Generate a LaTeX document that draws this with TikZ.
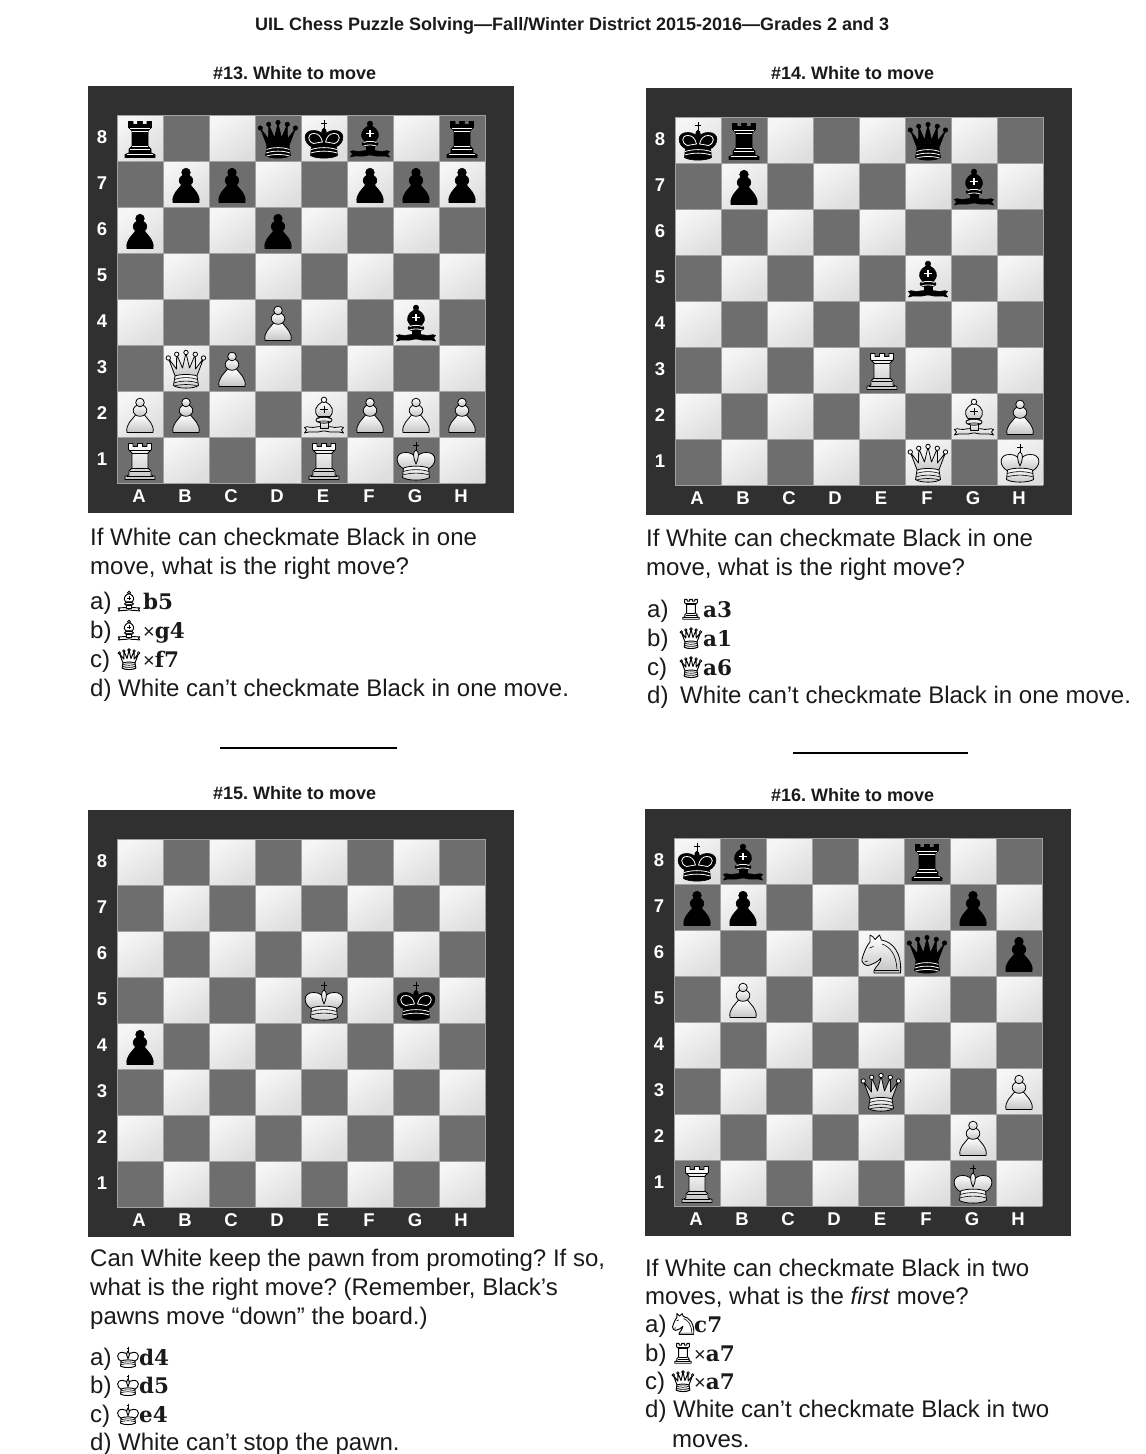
\documentclass[tikz,border=0pt]{standalone}
\usepackage{fontspec}
\setmainfont{Liberation Sans}
\newfontfamily\figfont{DejaVu Serif}
\newfontfamily\plainfont{Liberation Sans}
\frenchspacing
\definecolor{frameC}{HTML}{303030}
\definecolor{darkC}{HTML}{6E6E6E}
\definecolor{lightA}{HTML}{F6F6F6}
\definecolor{lightB}{HTML}{DEDEDE}
\definecolor{gridC}{HTML}{A0A0A0}
\definecolor{pcBot}{HTML}{C4C4C4}
\definecolor{inkC}{HTML}{1A1A1A}
\tikzset{
  x=1pt,y=-1pt,
  pbody/.style={},pline/.style={},pball/.style={},pring/.style={},pheavy/.style={},
  whitepc/.style={
    pbody/.style={draw=black,line width=.8pt,line join=round,top color=white,bottom color=pcBot},
    pball/.style={draw=black,line width=.8pt,fill=white},
    pring/.style={},
    pheavy/.style={draw=black,line width=.7pt},
    pline/.style={draw=black,line width=.6pt}},
  blackpc/.style={
    pbody/.style={draw=black,line width=.6pt,line join=round,fill=black},
    pball/.style={draw=black,line width=.6pt,fill=black},
    pring/.style={draw=white,line width=.8pt},
    pheavy/.style={draw=white,line width=1.6pt},
    pline/.style={draw=white,line width=.8pt}},
  whitesmall/.style={scale=.55,
    pbody/.style={draw=black,line width=.95pt,line join=round,fill=white},
    pball/.style={draw=black,line width=.8pt,fill=white},
    pring/.style={},
    pheavy/.style={draw=black,line width=.5pt},
    pline/.style={draw=black,line width=.6pt}},
  crossmark/.style={draw=black,line width=.8pt},
  lsq/.style={top color=lightA,bottom color=lightB,shading angle=35},
  dsq/.style={fill=darkC},
  gridline/.style={draw=gridC,line width=.5pt},
  rlabel/.style={text=white,font=\fontsize{18.5}{20}\selectfont\bfseries,inner sep=0pt},
  body/.style={anchor=base west,inner sep=0pt,font=\fontsize{24}{28}\selectfont,text=inkC},
  title/.style={anchor=base west,inner sep=0pt,font=\fontsize{18}{20}\selectfont\bfseries,text=inkC},
  movetxt/.style={anchor=base west,inner sep=0pt,font=\fontsize{21.5}{26}\selectfont\figfont\bfseries,text=inkC},
  rulestroke/.style={draw=black,line width=1.6pt},
  pcpawn/.pic={
    \path[pbody] (-13,18.5) .. controls (-14.5,10) and (-8,6) .. (-4.5,1) -- (4.5,1) .. controls (8,6) and (14.5,10) .. (13,18.5) -- cycle;
    \path[pbody] (0,-3.5) ellipse [x radius=6.8,y radius=5.8];
    \path[pbody] (0,-11.5) circle [radius=4.3];
  },
  pcrook/.pic={
    \path[pbody] (-11.5,-16.5) -- (-7,-16.5) -- (-7,-13.5) -- (-2.6,-13.5) -- (-2.6,-16.5) -- (2.6,-16.5) -- (2.6,-13.5) -- (7,-13.5) -- (7,-16.5) -- (11.5,-16.5) -- (11.5,-10.5) -- (8,-7) -- (8,8) -- (11,11) -- (11,15) -- (15,16.5) -- (15,19.5) -- (-15,19.5) -- (-15,16.5) -- (-11,15) -- (-11,11) -- (-8,8) -- (-8,-7) -- (-11.5,-10.5) -- cycle;
    \path[pline] (-10,-10) -- (10,-10) (-8,-7) -- (8,-7) (-8,8) -- (8,8) (-10,11.5) -- (10,11.5) (-13,16.5) -- (13,16.5);
  },
  pcqueen/.pic={
    \path[pbody] (-10.5,9) -- (-17.5,-9.5) -- (-9.5,1) -- (-9.3,-13.5) -- (-3.5,0) -- (0,-15) -- (3.5,0) -- (9.3,-13.5) -- (9.5,1) -- (17.5,-9.5) -- (10.5,9) -- cycle;
    \path[pbody] (-11,8) .. controls (-12,12) .. (-12.5,17.5) .. controls (-8,21) and (8,21) .. (12.5,17.5) .. controls (12,12) .. (11,8) .. controls (6,6) and (-6,6) .. cycle;
    \path[pline] (-11.4,11.5) .. controls (-5,9) and (5,9) .. (11.4,11.5) (-12,15) .. controls (-5,12.5) and (5,12.5) .. (12,15) (-11.5,18) .. controls (-5,16) and (5,16) .. (11.5,18);
    \path[pball] (-17.7,-10) circle [radius=2.2] (-9.3,-13.7) circle [radius=2.2] (0,-15.5) circle [radius=2.2] (9.3,-13.7) circle [radius=2.2] (17.5,-10) circle [radius=2.2];
  },
  pcking/.pic={
    \path[crossmark] (0,-18) -- (0,-9) (-2.6,-15) -- (2.6,-15);
    \path[pbody] (-12,9) .. controls (-21,5) and (-22,-8) .. (-10,-7.5) .. controls (-5,-7.5) and (-2,-5) .. (0,-2) .. controls (2,-5) and (5,-7.5) .. (10,-7.5) .. controls (22,-8) and (21,5) .. (12,9) -- cycle;
    \path[pbody] (0,-10) .. controls (-3,-8) and (-3.5,-4) .. (0,4) .. controls (3.5,-4) and (3,-8) .. (0,-10) -- cycle;
    \path[pring] (-10.5,5.5) .. controls (-17,3) and (-17,-4.5) .. (-10,-4.5) .. controls (-6,-4.5) and (-3,-2) .. (-1.5,4) .. controls (-5,4.5) .. (-10.5,5.5) -- cycle;
    \path[pring] (10.5,5.5) .. controls (17,3) and (17,-4.5) .. (10,-4.5) .. controls (6,-4.5) and (3,-2) .. (1.5,4) .. controls (5,4.5) .. (10.5,5.5) -- cycle;
    \path[pbody] (-12.5,8) .. controls (-13,12) .. (-13.5,17.5) .. controls (-8,21) and (8,21) .. (13.5,17.5) .. controls (13,12) .. (12.5,8) .. controls (6,5.5) and (-6,5.5) .. cycle;
    \path[pline] (-12.8,11.5) .. controls (-5,9) and (5,9) .. (12.8,11.5) (-13.2,15) .. controls (-5,12.5) and (5,12.5) .. (13.2,15);
  },
  pcbishop/.pic={
    \path[pbody] (0,13.5) .. controls (-5,11) and (-10,14.5) .. (-14,13.2) .. controls (-16,12.5) and (-18,12.5) .. (-19.5,13.5) -- (-17.5,16) -- (-19.5,19) .. controls (-14,16.5) and (-8,19.5) .. (-1,17) -- (1,17) .. controls (8,19.5) and (14,16.5) .. (19.5,19) -- (17.5,16) -- (19.5,13.5) .. controls (18,12.5) and (16,12.5) .. (14,13.2) .. controls (10,14.5) and (5,11) .. (0,13.5) -- cycle;
    \path[pbody] (-4,8) -- (4,8) -- (4,14) -- (-4,14) -- cycle;
    \path[pbody] (-2,-12) .. controls (-8,-8.5) and (-11,-3) .. (-6,2.5) -- (6,2.5) .. controls (11,-3) and (8,-8.5) .. (2,-12) -- cycle;
    \path[pbody] (0,6) ellipse [x radius=8,y radius=3.2];
    \path[pball] (0,-14.2) circle [radius=2.7];
    \path[pline] (-6.5,4.5) .. controls (-3,3) and (3,3) .. (6.5,4.5) (-6.5,8) .. controls (-3,6.6) and (3,6.6) .. (6.5,8);
    \path[pheavy] (-3.6,-4.5) -- (3.6,-4.5) (0,-8) -- (0,-1);
  },
  pcknight/.pic={
    \path[pbody] (19.5,20) -- (-7,20) -- (-7,17.5) .. controls (-5,13) and (0,10) .. (0,5) .. controls (-3,9) and (-8,11) .. (-13,12.5) .. controls (-16,13) and (-20,9) .. (-19,6) .. controls (-17,-1) and (-14,-8) .. (-11,-11) -- (-11,-18) .. controls (-8,-17) and (-7,-15) .. (-6,-13.5) -- (-1.5,-18) -- (0.5,-13) .. controls (12,-11) and (21,0) .. (19.5,20) -- cycle;
    \path[pline] (-11.5,-5) -- (-7.5,-6.5) (-16,8.5) -- (-13,8) (-7,17.5) -- (18,17.5) (1,-9) .. controls (9,-6) and (15,1) .. (16,16);
  }
}
\newcommand{\wpc}[2]{\pic[whitepc] at (#2) {pc#1};}
\newcommand{\bpc}[2]{\pic[blackpc] at (#2) {pc#1};}
% board origin is the top-left corner of square a8
\newcommand{\chessboard}[3]{%
  \begin{scope}[shift={(#1,#2)}]
    \fill[frameC] (-29,-29) rectangle (397,398);
    \foreach \f [count=\i from 0] in {a,b,c,d,e,f,g,h}{
      \foreach \r in {1,...,8}{
        \pgfmathtruncatemacro{\sqpar}{mod(\i+\r,2)}
        \pgfmathsetmacro{\sx}{46*\i}
        \pgfmathsetmacro{\sy}{46*(8-\r)}
        \ifnum\sqpar=0
          \path[lsq] (\sx,\sy) rectangle ++(46,46);
        \else
          \path[dsq] (\sx,\sy) rectangle ++(46,46);
        \fi
        \coordinate (\f\r) at (\sx+23,\sy+23);
      }
    }
    \foreach \k in {0,...,8}{
      \path[gridline] ({46*\k},0) -- ({46*\k},368);
      \path[gridline] (0,{46*\k}) -- (368,{46*\k});
    }
    \foreach \r in {1,...,8}{
      \node[rlabel] (#3-rank\r) at (-15,{23+46*(8-\r)-1}) {\r};
    }
    \foreach \ltr [count=\i from 0] in {A,B,C,D,E,F,G,H}{
      \node[rlabel] (#3-file\ltr) at ({22+46*\i},381) {\ltr};
    }
  \end{scope}}
% \answer{name}{x}{baseline}{label}{piece}{piece x}{text x}{move}
\newcommand{\answer}[8]{%
  \node[body] (#1-l) at (#2,#3) {#4};
  \pic[whitesmall] at (#6,{#3-8.5}) {pc#5};
  \node[movetxt] (#1-m) at (#7,#3) {#8};}
\newcommand{\bodyline}[4]{\node[body] (#1) at (#2,#3) {#4};}
\newcommand{\capmark}{{\plainfont\mdseries\fontsize{20}{24}\selectfont ×}}
\begin{document}
\begin{tikzpicture}
\useasboundingbox (0,0) rectangle (1146,1454);
\fill[white] (0,0) rectangle (1146,1454);
\node[title] (head) at (255,30) {UIL Chess Puzzle Solving—Fall/Winter District 2015-2016—Grades 2 and 3};
\node[title] (t13) at (213,79) {\#13. White to move};
\node[title] (t14) at (771,79) {\#14. White to move};
\node[title] (t15) at (213,799) {\#15. White to move};
\node[title] (t16) at (771,801) {\#16. White to move};

% ---- board 13
\chessboard{117}{115}{bA}
\bpc{rook}{a8}\bpc{queen}{d8}\bpc{king}{e8}\bpc{bishop}{f8}\bpc{rook}{h8}
\bpc{pawn}{b7}\bpc{pawn}{c7}\bpc{pawn}{f7}\bpc{pawn}{g7}\bpc{pawn}{h7}
\bpc{pawn}{a6}\bpc{pawn}{d6}\bpc{bishop}{g4}
\wpc{pawn}{d4}\wpc{queen}{b3}\wpc{pawn}{c3}
\wpc{pawn}{a2}\wpc{pawn}{b2}\wpc{bishop}{e2}\wpc{pawn}{f2}\wpc{pawn}{g2}\wpc{pawn}{h2}
\wpc{rook}{a1}\wpc{rook}{e1}\wpc{king}{g1}

% ---- board 14
\chessboard{675}{117}{bB}
\bpc{king}{a8}\bpc{rook}{b8}\bpc{queen}{f8}
\bpc{pawn}{b7}\bpc{bishop}{g7}\bpc{bishop}{f5}
\wpc{rook}{e3}\wpc{bishop}{g2}\wpc{pawn}{h2}\wpc{queen}{f1}\wpc{king}{h1}

% ---- board 15
\chessboard{117}{839}{bC}
\wpc{king}{e5}\bpc{king}{g5}\bpc{pawn}{a4}

% ---- board 16
\chessboard{674}{838}{bD}
\bpc{king}{a8}\bpc{bishop}{b8}\bpc{rook}{f8}
\bpc{pawn}{a7}\bpc{pawn}{b7}\bpc{pawn}{g7}
\wpc{knight}{e6}\bpc{queen}{f6}\bpc{pawn}{h6}
\wpc{pawn}{b5}\wpc{queen}{e3}\wpc{pawn}{h3}\wpc{pawn}{g2}
\wpc{rook}{a1}\wpc{king}{g1}

% ---- text 13
\bodyline{q13a}{90}{545}{If White can checkmate Black in one}
\bodyline{q13b}{90}{574}{move, what is the right move?}
\answer{a13a}{90}{609}{a)}{bishop}{129}{143}{b5}
\answer{a13b}{90}{638}{b)}{bishop}{129}{143}{\capmark g4}
\answer{a13c}{90}{667}{c)}{queen}{129}{143}{\capmark f7}
\bodyline{a13d}{90}{696}{d) White can’t checkmate Black in one move.}

% ---- text 14
\bodyline{q14a}{646}{546}{If White can checkmate Black in one}
\bodyline{q14b}{646}{575}{move, what is the right move?}
\answer{a14a}{647}{617}{a)}{rook}{691}{703}{a3}
\answer{a14b}{647}{646}{b)}{queen}{691}{703}{a1}
\answer{a14c}{647}{675}{c)}{queen}{691}{703}{a6}
\bodyline{a14d}{647}{703}{d)}
\bodyline{a14e}{680}{703}{White can’t checkmate Black in one move.}

% ---- rules
\path[rulestroke] (220,748) -- (397,748);
\path[rulestroke] (793,753) -- (968,753);

% ---- text 15
\bodyline{q15a}{90}{1266}{Can White keep the pawn from promoting? If so,}
\bodyline{q15b}{90}{1295}{what is the right move? (Remember, Black’s}
\bodyline{q15c}{90}{1324}{pawns move “down” the board.)}
\answer{a15a}{90}{1365}{a)}{king}{128}{139}{d4}
\answer{a15b}{90}{1393}{b)}{king}{128}{139}{d5}
\answer{a15c}{90}{1422}{c)}{king}{128}{139}{e4}
\bodyline{a15d}{90}{1450}{d) White can’t stop the pawn.}

% ---- text 16
\bodyline{q16a}{645}{1276}{If White can checkmate Black in two}
\node[body] (q16b) at (645,1304) {moves, what is the \textit{first} move?};
\answer{a16a}{645}{1332}{a)}{knight}{683}{694}{c7}
\answer{a16b}{645}{1361}{b)}{rook}{683}{694}{\capmark a7}
\answer{a16c}{645}{1389}{c)}{queen}{683}{694}{\capmark a7}
\bodyline{a16d}{645}{1417}{d) White can’t checkmate Black in two}
\bodyline{a16e}{672}{1447}{moves.}
\end{tikzpicture}
\end{document}
